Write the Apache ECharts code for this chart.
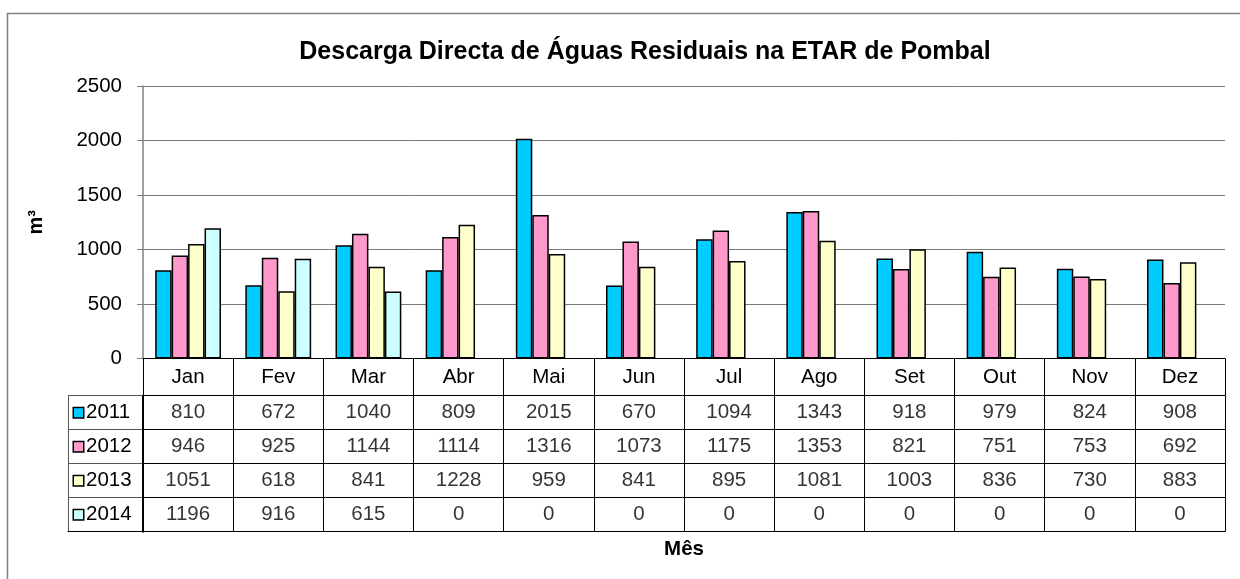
<!DOCTYPE html>
<html>
<head>
<meta charset="utf-8">
<title>Descarga Directa de Águas Residuais na ETAR de Pombal</title>
<script src="https://cdn.jsdelivr.net/npm/echarts@6/dist/echarts.min.js"></script>
<style>
  html, body { margin: 0; padding: 0; background: #fff; }
  #chart { width: 1240px; height: 579px; }
</style>
</head>
<body>
<div id="chart"></div>
<script>
// dados (m3 por mês)
const months = ['Jan', 'Fev', 'Mar', 'Abr', 'Mai', 'Jun', 'Jul', 'Ago', 'Set', 'Out', 'Nov', 'Dez'];
const years = ['2011', '2012', '2013', '2014'];
const v2011 = [810, 672, 1040, 809, 2015, 670, 1094, 1343, 918, 979, 824, 908];
const v2012 = [946, 925, 1144, 1114, 1316, 1073, 1175, 1353, 821, 751, 753, 692];
const v2013 = [1051, 618, 841, 1228, 959, 841, 895, 1081, 1003, 836, 730, 883];
const v2014 = [1196, 916, 615, 0, 0, 0, 0, 0, 0, 0, 0, 0];
const yTicks = [0, 500, 1000, 1500, 2000, 2500];

const values = [v2011, v2012, v2013, v2014];
const colors = ['#00CCFF', '#FF99CC', '#FFFFCC', '#CCFFFF'];
const font = "'Liberation Sans', Arial, sans-serif";
const fs = 20.5; // tamanho do texto normal

const chart = echarts.init(document.getElementById('chart'));

// células da tabela de dados: [mês, linha, valor]
const cells = [];
values.forEach((arr, s) => {
  arr.forEach((v, i) => cells.push([i, s, v]));
});

// rich para o quadrado da legenda na tabela
const rich = {};
years.forEach((y, s) => {
  rich['k' + s] = {
    width: 9, height: 9,
    backgroundColor: colors[s],
    borderColor: '#000', borderWidth: 1.5
  };
});
rich.t = { fontSize: fs, fontFamily: font, color: '#000', padding: [0, 0, 0, 3] };

const option = {
  animation: false,
  textStyle: { fontFamily: font },
  title: {
    text: 'Descarga Directa de Águas Residuais na ETAR de Pombal',
    left: 640, top: 35, textAlign: 'center',
    textStyle: { fontSize: 25, fontWeight: 'bold', color: '#000', fontFamily: font }
  },
  graphic: [
    // moldura do gráfico
    { type: 'rect', shape: { x: 7.5, y: 13.5, width: 1300, height: 700 },
      style: { fill: 'none', stroke: '#808080', lineWidth: 1.5 }, silent: true }
  ],
  grid: [
    { left: 143, right: 15, top: 86, height: 272.5 },   // barras
    { left: 143, right: 15, top: 395.7, height: 136 },  // tabela
    { left: 68, width: 74, top: 395.7, height: 136 }    // coluna legenda
  ],
  xAxis: [
    {
      gridIndex: 0, type: 'category', data: months,
      axisLine: { lineStyle: { color: '#000', width: 1 } },
      axisTick: { show: true, length: 37, lineStyle: { color: '#000' } },
      axisLabel: { fontSize: fs, color: '#000', margin: 8 }
    },
    {
      gridIndex: 1, type: 'category', data: months,
      name: 'Mês', nameLocation: 'middle', nameGap: 7,
      nameTextStyle: { fontSize: 20.5, fontWeight: 'bold', color: '#000' },
      axisLine: { lineStyle: { color: '#000', width: 1 } },
      axisTick: { show: false },
      axisLabel: { show: false },
      splitLine: { show: true, showMinLine: true, showMaxLine: true, lineStyle: { color: '#000', width: 1 } }
    },
    {
      gridIndex: 2, type: 'category', data: [''],
      axisLine: { lineStyle: { color: '#000', width: 1 } },
      axisTick: { show: false },
      axisLabel: { show: false },
      splitLine: { show: true, showMinLine: true, showMaxLine: true, lineStyle: { color: '#555', width: 1 } }
    }
  ],
  yAxis: [
    {
      gridIndex: 0, type: 'value', min: 0, max: yTicks[yTicks.length - 1], interval: yTicks[1] - yTicks[0],
      name: 'm³', nameLocation: 'middle', nameGap: 97, nameRotate: 90,
      nameTextStyle: { fontSize: 20, fontWeight: 'bold', color: '#000' },
      axisLine: { show: true, lineStyle: { color: '#808080', width: 1.5 } },
      axisTick: { show: true, length: 6, lineStyle: { color: '#808080' } },
      axisLabel: { fontSize: fs, color: '#000', margin: 21, formatter: v => String(v) },
      splitLine: { lineStyle: { color: '#7a7a7a', width: 1 } }
    },
    {
      gridIndex: 1, type: 'category', data: years, inverse: true,
      axisLine: { show: true, lineStyle: { color: '#000', width: 2 } },
      axisTick: { show: false },
      axisLabel: { show: false },
      splitLine: { show: true, showMinLine: true, showMaxLine: true, lineStyle: { color: '#000', width: 1 } }
    },
    {
      gridIndex: 2, type: 'category', data: years, inverse: true,
      axisLine: { show: true, lineStyle: { color: '#555', width: 1 } },
      axisTick: { show: false },
      axisLabel: {
        inside: true, margin: 6,
        formatter: (val, idx) => '{k' + idx + '|}{t|' + val + '}',
        rich: rich
      },
      splitLine: { show: true, showMinLine: true, showMaxLine: true, lineStyle: { color: '#555', width: 1 } }
    }
  ],
  series: [
    ...years.map((y, s) => ({
      name: y, type: 'bar', xAxisIndex: 0, yAxisIndex: 0,
      // barras a zero não levam contorno (como no Excel)
      data: values[s].map(v => v === 0 ? { value: v, itemStyle: { borderWidth: 0 } } : v),
      barGap: '0%', barCategoryGap: '27%',
      itemStyle: { color: colors[s], borderColor: '#000', borderWidth: 1.5 }
    })),
    {
      // valores da tabela
      type: 'scatter', xAxisIndex: 1, yAxisIndex: 1,
      data: cells, symbolSize: 1, silent: true,
      itemStyle: { color: 'rgba(0,0,0,0)' },
      label: {
        show: true, position: 'inside',
        formatter: p => String(p.value[2]),
        fontSize: fs, color: '#000'
      }
    }
  ]
};

chart.setOption(option);
window.addEventListener('resize', () => chart.resize());
</script>
</body>
</html>
